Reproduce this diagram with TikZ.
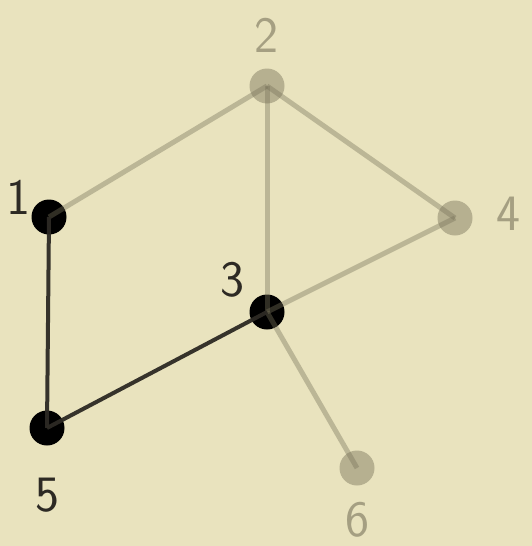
\documentclass[tikz,border=0pt]{standalone}
\definecolor{bgc}{RGB}{233,227,190}
\definecolor{inkc}{RGB}{45,42,36}
\definecolor{fadec}{RGB}{120,115,90}
\begin{document}
\begin{tikzpicture}[x=1pt,y=-1pt,
  vtxon/.style={circle,fill=black,minimum size=35pt,inner sep=0pt},
  vtxoff/.style={circle,fill=fadec,fill opacity=0.45,minimum size=35pt,inner sep=0pt},
  edgeon/.style={draw=inkc,line width=4pt,draw opacity=0.95},
  edgeoff/.style={draw=fadec,line width=5pt,draw opacity=0.4},
  labon/.style={text=inkc,font=\fontsize{51}{51}\selectfont\sffamily},
  laboff/.style={text=fadec,text opacity=0.6,font=\fontsize{51}{51}\selectfont\sffamily}]
\fill[bgc] (0,0) rectangle (532,546);
\useasboundingbox (0,0) rectangle (532,546);
\node[vtxon]  (n1) at (49,217) {};
\node[vtxoff] (n2) at (267,86) {};
\node[vtxon]  (n3) at (267,312) {};
\node[vtxoff] (n4) at (455,218) {};
\node[vtxon]  (n5) at (47,428) {};
\node[vtxoff] (n6) at (357,468) {};
\draw[edgeoff] (n1.center) -- (n2.center);
\draw[edgeoff] (n2.center) -- (n3.center);
\draw[edgeoff] (n2.center) -- (n4.center);
\draw[edgeoff] (n3.center) -- (n4.center);
\draw[edgeoff] (n3.center) -- (n6.center);
\draw[edgeon] (n1.center) -- (n5.center);
\draw[edgeon] (n5.center) -- (n3.center);
\node[labon]  (l1) at (18,197) {1};
\node[laboff] (l2) at (266,35) {2};
\node[labon]  (l3) at (232,280) {3};
\node[laboff] (l4) at (508,214) {4};
\node[labon]  (l5) at (47,495) {5};
\node[laboff] (l6) at (357,520) {6};
\end{tikzpicture}
\end{document}
